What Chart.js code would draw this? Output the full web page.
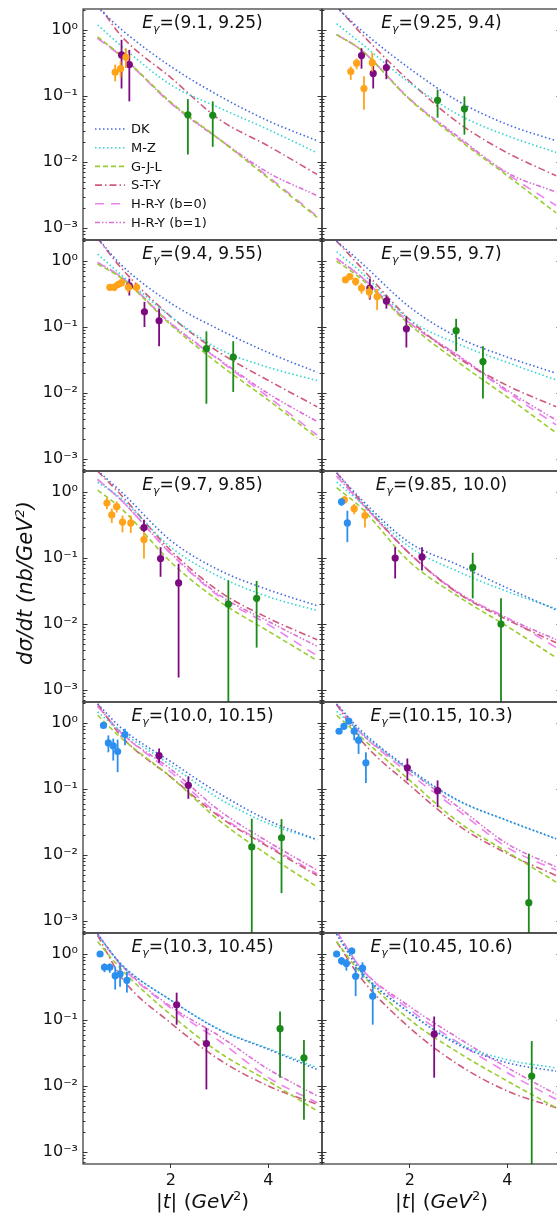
<!DOCTYPE html>
<html>
<head>
<meta charset="utf-8">
<script src="https://cdn.jsdelivr.net/npm/chart.js@4.4.1/dist/chart.umd.min.js"></script>
<style>
  html, body { margin: 0; padding: 0; background: #fff; overflow: hidden; }
  #page { position: relative; width: 557px; height: 1215px; overflow: hidden;
          font-family: "DejaVu Sans", sans-serif; color: #111; }
  #page canvas { position: absolute; }
  .ptitle { position: absolute; width: 239px; text-align: center; font-size: 17px;
            line-height: 20px; white-space: nowrap; }
  .ptitle sub { font-size: 11px; line-height: 0; vertical-align: -4px; }
  .ytitle { position: absolute; width: 300px; height: 26px; line-height: 26px; text-align: center;
            font-size: 21px; font-style: italic; transform: rotate(-90deg); white-space: nowrap; }
  .xtitle { position: absolute; width: 239px; text-align: center; font-size: 20px;
            line-height: 24px; white-space: nowrap; }
  sup { font-size: 13px; line-height: 0; vertical-align: 8px; }
</style>
</head>
<body>
<div id="page"></div>
<script>
// ---------- DATA ----------

// |t| values where the model curves are read
const tGrid = [0.5, 1, 2, 3, 4, 5];

// photon energy bins, one per panel
const binLabels = [
  "(9.1, 9.25)", "(9.25, 9.4)", "(9.4, 9.55)", "(9.55, 9.7)", "(9.7, 9.85)",
  "(9.85, 10.0)", "(10.0, 10.15)", "(10.15, 10.3)", "(10.3, 10.45)", "(10.45, 10.6)"
];

const modelNames = ["DK", "M-Z", "G-J-L", "S-T-Y", "H-R-Y (b=0)", "H-R-Y (b=1)"];

// model curves, one row per panel, values at tGrid
const dkValues = [
  [2.2, 1.0, 0.28, 0.10, 0.042, 0.021],
  [2.2, 1.0, 0.26, 0.083, 0.037, 0.021],
  [2.2, 0.85, 0.23, 0.091, 0.041, 0.0206],
  [2.0, 0.95, 0.20, 0.069, 0.035, 0.020],
  [2.1, 0.98, 0.184, 0.065, 0.033, 0.019],
  [1.95, 0.78, 0.17, 0.078, 0.035, 0.0164],
  [1.95, 0.82, 0.26, 0.085, 0.0335, 0.017],
  [1.95, 0.77, 0.20, 0.067, 0.0335, 0.0177],
  [2.0, 0.68, 0.20, 0.071, 0.036, 0.0178],
  [2.0, 0.54, 0.128, 0.042, 0.0225, 0.0168]
];
const mzValues = [
  [1.19, 0.56, 0.148, 0.066, 0.031, 0.0138],
  [1.25, 0.63, 0.158, 0.052, 0.025, 0.014],
  [1.27, 0.60, 0.144, 0.046, 0.0245, 0.0155],
  [1.38, 0.68, 0.129, 0.055, 0.029, 0.0158],
  [1.41, 0.78, 0.146, 0.052, 0.026, 0.016],
  [1.41, 0.69, 0.146, 0.062, 0.031, 0.017],
  [1.47, 0.73, 0.23, 0.071, 0.030, 0.017],
  [1.5, 0.72, 0.19, 0.066, 0.033, 0.0175],
  [1.9, 0.68, 0.20, 0.072, 0.037, 0.019],
  [2.0, 0.56, 0.13, 0.044, 0.025, 0.0188]
];
const gjlValues = [
  [0.79, 0.40, 0.081, 0.022, 0.0057, 0.00145],
  [0.85, 0.50, 0.088, 0.022, 0.0062, 0.0017],
  [0.90, 0.54, 0.108, 0.027, 0.0078, 0.0021],
  [1.0, 0.54, 0.108, 0.029, 0.0087, 0.0025],
  [1.07, 0.55, 0.087, 0.022, 0.0078, 0.0028],
  [1.16, 0.58, 0.087, 0.026, 0.0092, 0.0031],
  [1.31, 0.58, 0.152, 0.033, 0.0099, 0.0033],
  [1.31, 0.61, 0.135, 0.0316, 0.0111, 0.0039],
  [1.53, 0.57, 0.12, 0.032, 0.0119, 0.0042],
  [1.53, 0.51, 0.101, 0.032, 0.0119, 0.0047]
];
const styValues = [
  [2.5, 0.79, 0.19, 0.044, 0.0175, 0.0065],
  [2.3, 0.89, 0.166, 0.039, 0.0138, 0.0062],
  [2.2, 0.76, 0.144, 0.041, 0.0155, 0.0062],
  [2.0, 0.80, 0.129, 0.034, 0.013, 0.0062],
  [2.06, 0.87, 0.13, 0.031, 0.0123, 0.0058],
  [1.95, 0.73, 0.116, 0.029, 0.0116, 0.0052],
  [1.95, 0.61, 0.152, 0.038, 0.0133, 0.0049],
  [1.9, 0.55, 0.114, 0.028, 0.0105, 0.0049],
  [1.9, 0.43, 0.09, 0.025, 0.010, 0.0053],
  [1.53, 0.43, 0.076, 0.021, 0.0084, 0.0047]
];
const hry0Values = [
  [0.75, 0.39, 0.078, 0.022, 0.006, 0.0015],
  [0.85, 0.50, 0.09, 0.023, 0.0066, 0.0022],
  [0.95, 0.56, 0.112, 0.031, 0.0087, 0.0023],
  [1.1, 0.58, 0.115, 0.036, 0.0104, 0.0033],
  [1.55, 0.73, 0.116, 0.026, 0.0098, 0.0033],
  [1.74, 0.69, 0.116, 0.029, 0.0123, 0.0044],
  [1.8, 0.69, 0.18, 0.040, 0.014, 0.0052],
  [1.9, 0.70, 0.17, 0.047, 0.013, 0.0059],
  [2.0, 0.64, 0.152, 0.048, 0.0134, 0.0056],
  [2.2, 0.61, 0.143, 0.045, 0.0159, 0.0063]
];
const hry1Values = [
  [0.76, 0.40, 0.078, 0.022, 0.0069, 0.0031],
  [0.86, 0.50, 0.09, 0.024, 0.0069, 0.0035],
  [0.95, 0.56, 0.114, 0.032, 0.0098, 0.0037],
  [1.1, 0.58, 0.115, 0.037, 0.011, 0.0039],
  [1.55, 0.73, 0.118, 0.0275, 0.011, 0.0046],
  [1.74, 0.69, 0.116, 0.030, 0.0123, 0.0058],
  [1.8, 0.69, 0.20, 0.047, 0.0158, 0.0059],
  [1.9, 0.70, 0.19, 0.053, 0.0148, 0.0066],
  [2.0, 0.66, 0.16, 0.057, 0.018, 0.0071],
  [2.2, 0.61, 0.16, 0.053, 0.019, 0.0075]
];

// measured points per panel: [t, dsigma/dt, lower, upper]
const bluePoints = [
  [], [], [], [], [],
  [[0.60, 0.71, 0.62, 0.80], [0.72, 0.34, 0.174, 0.52]],
  [[0.62, 0.92, 0.84, 1.0], [0.72, 0.50, 0.36, 0.65], [0.82, 0.45, 0.27, 0.58], [0.91, 0.37, 0.18, 0.56], [1.06, 0.67, 0.46, 0.82]],
  [[0.55, 0.75, 0.68, 0.82], [0.65, 0.89, 0.80, 0.98], [0.75, 1.07, 0.96, 1.18], [0.86, 0.75, 0.55, 0.92], [0.95, 0.55, 0.34, 0.69], [1.10, 0.25, 0.123, 0.36]],
  [[0.55, 1.0, 0.92, 1.08], [0.64, 0.63, 0.53, 0.72], [0.75, 0.63, 0.52, 0.72], [0.86, 0.47, 0.29, 0.64], [0.96, 0.50, 0.32, 0.72], [1.10, 0.40, 0.26, 0.54]],
  [[0.50, 1.0, 0.92, 1.08], [0.60, 0.79, 0.68, 0.90], [0.70, 0.72, 0.56, 0.84], [0.81, 1.11, 0.98, 1.25], [0.89, 0.46, 0.23, 0.64], [1.03, 0.61, 0.43, 0.75], [1.24, 0.23, 0.085, 0.36]]
];
const orangePoints = [
  [[0.86, 0.23, 0.167, 0.30], [0.97, 0.26, 0.19, 0.34], [1.08, 0.39, 0.265, 0.53]],
  [[0.79, 0.235, 0.176, 0.28], [0.91, 0.314, 0.255, 0.37], [1.06, 0.13, 0.062, 0.20], [1.23, 0.32, 0.235, 0.45]],
  [[0.75, 0.40, 0.36, 0.45], [0.84, 0.40, 0.35, 0.46], [0.92, 0.44, 0.39, 0.50], [0.99, 0.47, 0.41, 0.53], [1.13, 0.40, 0.33, 0.47], [1.30, 0.40, 0.34, 0.47]],
  [[0.68, 0.52, 0.46, 0.58], [0.77, 0.58, 0.51, 0.65], [0.89, 0.49, 0.42, 0.56], [1.01, 0.39, 0.32, 0.46], [1.17, 0.34, 0.27, 0.42], [1.33, 0.29, 0.18, 0.38]],
  [[0.69, 0.68, 0.55, 0.82], [0.79, 0.45, 0.34, 0.56], [0.89, 0.60, 0.49, 0.72], [1.01, 0.35, 0.245, 0.44], [1.18, 0.34, 0.24, 0.44], [1.45, 0.19, 0.098, 0.245]],
  [[0.66, 0.76, 0.66, 0.86], [0.86, 0.56, 0.46, 0.66], [1.08, 0.44, 0.29, 0.55]],
  [], [], [], []
];
const purplePoints = [
  [[0.99, 0.42, 0.13, 0.71], [1.15, 0.30, 0.083, 0.50]],
  [[1.01, 0.41, 0.26, 0.53], [1.25, 0.22, 0.13, 0.30], [1.52, 0.27, 0.18, 0.35]],
  [[1.15, 0.42, 0.30, 0.54], [1.46, 0.17, 0.10, 0.24], [1.76, 0.124, 0.051, 0.19]],
  [[1.18, 0.39, 0.26, 0.54], [1.52, 0.247, 0.19, 0.30], [1.93, 0.094, 0.049, 0.144]],
  [[1.45, 0.29, 0.245, 0.38], [1.79, 0.098, 0.052, 0.146], [2.16, 0.042, 0.00155, 0.082]],
  [[1.70, 0.10, 0.049, 0.146], [2.25, 0.104, 0.065, 0.146]],
  [[1.76, 0.32, 0.25, 0.41], [2.36, 0.114, 0.071, 0.156]],
  [[1.95, 0.21, 0.135, 0.29], [2.57, 0.095, 0.053, 0.135]],
  [[2.12, 0.17, 0.085, 0.26], [2.73, 0.044, 0.0089, 0.076]],
  [[2.50, 0.061, 0.0134, 0.113]]
];
const greenPoints = [
  [[2.35, 0.052, 0.013, 0.090], [2.86, 0.051, 0.017, 0.083]],
  [[2.57, 0.086, 0.047, 0.125], [3.12, 0.064, 0.026, 0.099]],
  [[2.73, 0.047, 0.0069, 0.086], [3.28, 0.035, 0.0104, 0.061]],
  [[2.95, 0.088, 0.043, 0.133], [3.50, 0.030, 0.0083, 0.051]],
  [[3.18, 0.020, 0.0004, 0.046], [3.76, 0.0245, 0.0044, 0.045]],
  [[3.29, 0.072, 0.0245, 0.12], [3.87, 0.010, 0.0004, 0.0245]],
  [[3.66, 0.0133, 0.0004, 0.0355], [4.27, 0.0183, 0.00265, 0.035]],
  [[4.44, 0.0019, 0.0004, 0.0105]],
  [[4.24, 0.074, 0.0134, 0.135], [4.73, 0.0267, 0.0031, 0.05]],
  [[4.50, 0.0142, 0.0004, 0.048]]
];

// axis ticks
const yTickValues = [0.001, 0.01, 0.1, 1];
const yTickLabels = ["10⁻³", "10⁻²", "10⁻¹", "10⁰"];
const xTickValues = [2, 4];
const xTickLabels = ["2", "4"];

// ---------- STYLES ----------
const modelStyles = [
  { values: dkValues,   color: "#4169e1", dash: [1.5, 2.5] },
  { values: mzValues,   color: "#30d5d0", dash: [1.5, 2.5] },
  { values: gjlValues,  color: "#9acd32", dash: [5, 3] },
  { values: styValues,  color: "#cf5a7a", dash: [7, 3, 1.5, 3] },
  { values: hry0Values, color: "#ee82ee", dash: [9, 7] },
  { values: hry1Values, color: "#da70d6", dash: [5, 2, 1.5, 2, 1.5, 2] }
];
const pointStyles = [
  { points: bluePoints,   color: "#2b8ff0" },
  { points: orangePoints, color: "#ffa31a" },
  { points: purplePoints, color: "#7d0a80" },
  { points: greenPoints,  color: "#1a8a1a" }
];

const PANEL_W = 239, PANEL_H = 231, TOP0 = 9, LEFT0 = 83, X_AXIS_H = 30;
const Y_MIN = 6.6e-4, Y_MAX = 2.08, X_MIN = 0.2, X_MAX = 5.1;

Chart.defaults.font.family = "DejaVu Sans";
Chart.defaults.color = "#111";

// error bars, drawn right before each point set
const errorBars = {
  id: "errorBars",
  beforeDatasetDraw(chart, args) {
    const ds = chart.data.datasets[args.index];
    if (!ds.errLo) return;
    const ctx = chart.ctx, ca = chart.chartArea;
    const xs = chart.scales.x, ys = chart.scales.y;
    ctx.save();
    ctx.beginPath();
    ctx.rect(ca.left, ca.top, ca.right - ca.left, ca.bottom - ca.top);
    ctx.clip();
    ctx.strokeStyle = ds.borderColor;
    ctx.lineWidth = 1.8;
    ds.data.forEach((p, k) => {
      const x = xs.getPixelForValue(p.x);
      ctx.beginPath();
      ctx.moveTo(x, ys.getPixelForValue(ds.errLo[k]));
      ctx.lineTo(x, ys.getPixelForValue(ds.errHi[k]));
      ctx.stroke();
    });
    ctx.restore();
  }
};

// panel frame and inward log ticks
const frameTicks = {
  id: "frameTicks",
  afterDraw(chart) {
    const ctx = chart.ctx, ca = chart.chartArea, ys = chart.scales.y;
    ctx.save();
    ctx.strokeStyle = "#333";
    ctx.lineWidth = 1;
    for (let d = -4; d <= 0; d++) {
      for (let m = 1; m <= 9; m++) {
        const v = m * Math.pow(10, d);
        if (v < Y_MIN || v > Y_MAX) continue;
        const y = Math.round(ys.getPixelForValue(v)) + 0.5;
        const len = m === 1 ? 4.5 : 2.5;
        ctx.beginPath();
        ctx.moveTo(ca.left, y); ctx.lineTo(ca.left + len, y);
        ctx.moveTo(ca.right, y); ctx.lineTo(ca.right - len, y);
        ctx.stroke();
      }
    }
    ctx.lineWidth = 1.2;
    ctx.strokeRect(ca.left, ca.top, ca.right - ca.left, ca.bottom - ca.top);
    ctx.restore();
  }
};

// model legend inside the first panel
const modelLegend = {
  id: "modelLegend",
  afterDraw(chart, args, opts) {
    if (!opts.show) return;
    const ctx = chart.ctx, ca = chart.chartArea;
    ctx.save();
    ctx.font = "13px 'DejaVu Sans'";
    ctx.textBaseline = "middle";
    chart.data.datasets.filter(ds => ds.isModel).forEach((ds, k) => {
      const y = ca.top + 120 + k * 18.7;
      ctx.strokeStyle = ds.borderColor;
      ctx.lineWidth = 1.6;
      ctx.setLineDash(ds.borderDash);
      ctx.beginPath();
      ctx.moveTo(ca.left + 12, y); ctx.lineTo(ca.left + 42, y);
      ctx.stroke();
      ctx.setLineDash([]);
      ctx.fillStyle = "#111";
      ctx.fillText(ds.label, ca.left + 48, y + 1);
    });
    ctx.restore();
  }
};

const page = document.getElementById("page");

for (let i = 0; i < binLabels.length; i++) {
  const row = Math.floor(i / 2), col = i % 2;
  const isLeft = col === 0, isBottom = row === 4;
  const panelTop = TOP0 + row * PANEL_H;
  const panelLeft = isLeft ? LEFT0 : LEFT0 + PANEL_W;

  const cw = isLeft ? LEFT0 + PANEL_W + 2 : PANEL_W + 4;
  const ch = PANEL_H + 4 + (isBottom ? X_AXIS_H : 0);
  const cv = document.createElement("canvas");
  cv.width = cw; cv.height = ch;
  cv.style.width = cw + "px"; cv.style.height = ch + "px";
  cv.style.left = (isLeft ? 0 : panelLeft - 2) + "px";
  cv.style.top = (panelTop - 2) + "px";
  page.appendChild(cv);

  const datasets = [];
  pointStyles.forEach(g => {
    const pts = g.points[i];
    if (!pts.length) return;
    datasets.push({
      data: pts.map(p => ({ x: p[0], y: p[1] })),
      errLo: pts.map(p => p[2]),
      errHi: pts.map(p => p[3]),
      showLine: false,
      pointRadius: 3.6,
      pointBorderWidth: 0,
      backgroundColor: g.color,
      borderColor: g.color
    });
  });
  modelStyles.forEach((m, k) => {
    datasets.push({
      label: modelNames[k],
      isModel: true,
      data: tGrid.map((t, j) => ({ x: t, y: m.values[i][j] })),
      showLine: true,
      pointRadius: 0,
      borderWidth: 1.6,
      borderColor: m.color,
      borderDash: m.dash,
      cubicInterpolationMode: "monotone",
      fill: false
    });
  });

  new Chart(cv, {
    type: "scatter",
    data: { datasets },
    options: {
      responsive: false,
      animation: false,
      events: [],
      layout: { autoPadding: false, padding: { top: 2, bottom: 2, left: isLeft ? 0 : 2, right: 2 } },
      plugins: {
        legend: { display: false },
        tooltip: { enabled: false },
        modelLegend: { show: i === 0 }
      },
      scales: {
        x: {
          type: "linear",
          min: X_MIN, max: X_MAX,
          display: isBottom,
          border: { display: false },
          grid: { display: true, drawOnChartArea: false, drawTicks: true, tickLength: 4, color: "#333" },
          ticks: {
            font: { size: 16 }, padding: 3, autoSkip: false, maxRotation: 0,
            callback: v => xTickLabels[xTickValues.indexOf(v)]
          },
          afterBuildTicks: s => { s.ticks = xTickValues.map(v => ({ value: v })); },
          afterFit: s => {
            if (isBottom) s.height = X_AXIS_H;
            s.paddingLeft = 0; s.paddingRight = 0;
          }
        },
        y: {
          type: "logarithmic",
          min: Y_MIN, max: Y_MAX,
          display: isLeft,
          border: { display: false },
          grid: { display: false, drawTicks: false },
          ticks: {
            font: { size: 16 }, padding: 5, autoSkip: false,
            callback: v => yTickLabels[yTickValues.indexOf(v)]
          },
          afterBuildTicks: s => { s.ticks = yTickValues.map(v => ({ value: v })); },
          afterFit: s => {
            if (isLeft) s.width = LEFT0;
            s.paddingTop = 0; s.paddingBottom = 0;
          }
        }
      }
    },
    plugins: [errorBars, frameTicks, modelLegend]
  });

  // panel title
  const t = document.createElement("div");
  t.className = "ptitle";
  t.style.left = panelLeft + "px";
  t.style.top = (panelTop + 3) + "px";
  t.innerHTML = "<i>E</i><sub><i>γ</i></sub>=" + binLabels[i];
  page.appendChild(t);

  if (isBottom) {
    const xt = document.createElement("div");
    xt.className = "xtitle";
    xt.style.left = panelLeft + "px";
    xt.style.top = (panelTop + PANEL_H + 25) + "px";
    xt.innerHTML = "|<i>t</i>| (<i>GeV</i><sup>2</sup>)";
    page.appendChild(xt);
  }
}

// shared y-axis title
const yt = document.createElement("div");
yt.className = "ytitle";
yt.style.left = (25 - 150) + "px";
yt.style.top = (583 - 13) + "px";
yt.innerHTML = "dσ/dt (nb/GeV<sup>2</sup>)";
page.appendChild(yt);
</script>
</body>
</html>
